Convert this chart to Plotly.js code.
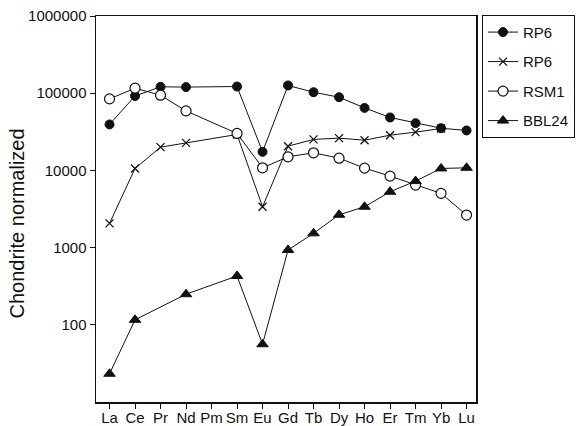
<!DOCTYPE html>
<html>
<head>
<meta charset="utf-8">
<script src="https://cdn.plot.ly/plotly-3.0.1.min.js"></script>
<style>html,body{margin:0;padding:0;background:#fff;}#chart{width:576px;height:426px;}</style>
</head>
<body>
<div id="chart"></div>
<script>
var elements = ["La","Ce","Pr","Nd","Pm","Sm","Eu","Gd","Tb","Dy","Ho","Er","Tm","Yb","Lu"];
var rp6Circle = [39400, 92000, 121000, 120000, null, 122000, 17400, 126000, 103000, 88700, 64500, 48500, 40900, 35200, 32900];
var rp6Cross  = [2060, 10600, 20000, 22700, null, 29200, 3380, 20600, 25200, 26200, 24600, 28600, 31300, 34900, null];
var rsm1      = [84400, 116000, 94200, 59000, null, 30100, 10800, 15000, 16900, 14400, 10700, 8440, 6450, 5040, 2640];
var bbl24     = [23.2, 116, null, 249, null, 429, 56, 931, 1530, 2660, 3380, 5290, 7270, 10600, 10800];
var seriesNames = ["RP6", "RP6", "RSM1", "BBL24"];
var yTickVals = [100, 1000, 10000, 100000, 1000000];
var yTickText = ["100", "1000", "10000", "100000", "1000000"];
var yTitle = "Chondrite normalized";

function tr(y, name, sym, size, color, lw, grp) {
  return {
    x: elements, y: y, name: name, type: "scatter", mode: "lines+markers",
    connectgaps: true, legendgroup: grp,
    line: {color: "#111", width: 1},
    marker: {symbol: sym, size: size, color: color, line: {color: "#111", width: lw}},
    cliponaxis: false
  };
}
var data = [
  tr(rp6Circle, seriesNames[0], "circle", 9, "#111", 1, "a"),
  tr(rp6Cross, seriesNames[1], "x-thin", 8, "#111", 1.3, "b"),
  tr(rsm1, seriesNames[2], "circle", 10, "#fff", 1.2, "c"),
  tr(bbl24, seriesNames[3], "triangle-up", 10, "#111", 1, "d")
];
var font = {family: "Liberation Sans, Arial, sans-serif", color: "#111"};
var layout = {
  width: 576, height: 426,
  margin: {l: 96, r: 100, t: 16, b: 24, autoexpand: false},
  paper_bgcolor: "#fff", plot_bgcolor: "#fff",
  font: font,
  showlegend: true,
  legend: {
    x: 1.0158, y: 1.003, xanchor: "left", yanchor: "top",
    bordercolor: "#111", borderwidth: 1, bgcolor: "#fff",
    font: {family: font.family, size: 15, color: "#111"},
    traceorder: "grouped", tracegroupgap: 7
  },
  xaxis: {
    type: "category", categoryorder: "array", categoryarray: elements,
    range: [-0.53, 14.37],
    showline: true, mirror: true, linecolor: "#111", linewidth: 1.5,
    ticks: "outside", ticklen: 5, tickwidth: 1, tickcolor: "#111",
    tickangle: 0, ticklabelstandoff: -4,
    showgrid: false, zeroline: false,
    tickfont: {family: font.family, size: 15, color: "#111"}
  },
  yaxis: {
    type: "log", range: [1, 6],
    tickvals: yTickVals, ticktext: yTickText,
    showline: true, mirror: true, linecolor: "#111", linewidth: 1.5,
    ticks: "outside", ticklen: 5, tickwidth: 1, tickcolor: "#111",
    showgrid: false, zeroline: false,
    tickfont: {family: font.family, size: 15, color: "#111"}
  },
  annotations: [{
    text: yTitle, xref: "paper", yref: "paper", x: -0.2066, y: 0.4637,
    xanchor: "center", yanchor: "middle", textangle: -90, showarrow: false,
    font: {family: font.family, size: 20, color: "#111"}
  }]
};
Plotly.newPlot("chart", data, layout, {displayModeBar: false, staticPlot: true});
</script>
</body>
</html>
